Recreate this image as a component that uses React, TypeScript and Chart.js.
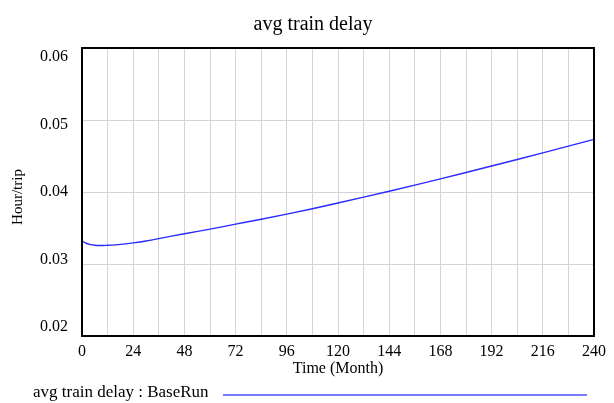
import React, { useEffect, useRef } from "react";
import { Chart, registerables } from "chart.js";

Chart.register(...registerables);

const chartTitle = "avg train delay";
const yAxisTitle = "Hour/trip";
const xAxisTitle = "Time (Month)";
const legendLabel = "avg train delay : BaseRun";

const months = [0, 2, 4, 6, 8, 10, 12, 18, 24, 30, 36, 48, 60, 72, 84, 96, 108, 120, 132, 144, 156, 168, 180, 192, 204, 216, 228, 240];
const delay = [
  0.0332, 0.03288, 0.0327, 0.03261, 0.03257, 0.03257, 0.0326, 0.03273, 0.03294, 0.0332, 0.03353, 0.0342, 0.03485,
  0.03553, 0.03621, 0.03692, 0.03768, 0.03847, 0.03928, 0.04011, 0.04096, 0.04183, 0.04271, 0.04361, 0.04452,
  0.04544, 0.04637, 0.04731,
];
const xMin = 0;
const xMax = 240;
const xGridStep = 12;
const xLabelStep = 24;
const yMin = 0.02;
const yMax = 0.06;
const yStep = 0.01;

const FONT = "'Liberation Serif', 'Times New Roman', serif";

const decorPlugin = {
  id: "decor",
  afterDraw(chart: any) {
    const ctx = chart.ctx;
    const area = chart.chartArea;
    const ys = chart.scales.y;
    ctx.save();
    // frame
    ctx.strokeStyle = "#000";
    ctx.lineWidth = 2;
    ctx.strokeRect(area.left, area.top, area.right - area.left, area.bottom - area.top);
    // y tick labels (evenly spread slightly inside the frame)
    const mid = (area.top + area.bottom) / 2;
    const k = 0.9375;
    ctx.fillStyle = "#000";
    ctx.font = `16px ${FONT}`;
    ctx.textAlign = "right";
    ctx.textBaseline = "middle";
    ys.ticks.forEach((t: any) => {
      const p = ys.getPixelForValue(t.value);
      const y = mid + (p - mid) * k;
      ctx.fillText(Number(t.value).toFixed(2), area.left - 14, y);
    });
    // title
    ctx.textAlign = "center";
    ctx.font = `20px ${FONT}`;
    ctx.fillText(chartTitle, 313, 25);
    // x axis title
    ctx.font = `16px ${FONT}`;
    ctx.fillText(xAxisTitle, (area.left + area.right) / 2, 369);
    // y axis title
    ctx.save();
    ctx.translate(18, 197);
    ctx.rotate(-Math.PI / 2);
    ctx.font = `15px ${FONT}`;
    ctx.fillText(yAxisTitle, 0, 0);
    ctx.restore();
    // legend
    ctx.textAlign = "left";
    ctx.font = `17px ${FONT}`;
    ctx.fillText(legendLabel, 33, 393);
    ctx.strokeStyle = "#7a7aff";
    ctx.lineWidth = 2;
    ctx.beginPath();
    ctx.moveTo(223, 395);
    ctx.lineTo(587, 395);
    ctx.stroke();
    ctx.restore();
  },
};

export default function App() {
  const ref = useRef<HTMLCanvasElement | null>(null);
  useEffect(() => {
    if (!ref.current) return;
    const chart = new Chart(ref.current, {
      type: "line",
      data: {
        datasets: [
          {
            label: legendLabel,
            data: months.map((m, i) => ({ x: m, y: delay[i] })),
            borderColor: "#2a2aff",
            borderWidth: 1.4,
            pointRadius: 0,
            cubicInterpolationMode: "monotone",
            fill: false,
          },
        ],
      },
      options: {
        responsive: false,
        animation: false,
        devicePixelRatio: 1,
        layout: { padding: { left: 0, top: 48, right: 20, bottom: 0 } },
        plugins: { legend: { display: false }, title: { display: false }, tooltip: { enabled: false } },
        scales: {
          x: {
            type: "linear",
            min: xMin,
            max: xMax,
            border: { display: false },
            grid: { color: "#d4d4d4", lineWidth: 1, drawTicks: false },
            ticks: {
              stepSize: xGridStep,
              autoSkip: false,
              maxRotation: 0,
              padding: 6,
              color: "#000",
              font: { family: FONT, size: 16 },
              callback: (v: any) => (Number(v) % xLabelStep === 0 ? String(v) : ""),
            },
            afterFit: (s: any) => {
              s.height = 67;
            },
          },
          y: {
            type: "linear",
            min: yMin,
            max: yMax,
            border: { display: false },
            grid: { color: "#d4d4d4", lineWidth: 1, drawTicks: false },
            ticks: { stepSize: yStep, display: false },
            afterFit: (s: any) => {
              s.width = 82;
            },
          },
        },
      },
      plugins: [decorPlugin],
    } as any);
    return () => chart.destroy();
  }, []);
  return (
    <div style={{ position: "absolute", left: 0, top: 0, width: 614, height: 403, background: "#fff" }}>
      <canvas ref={ref} width={614} height={403} />
    </div>
  );
}
